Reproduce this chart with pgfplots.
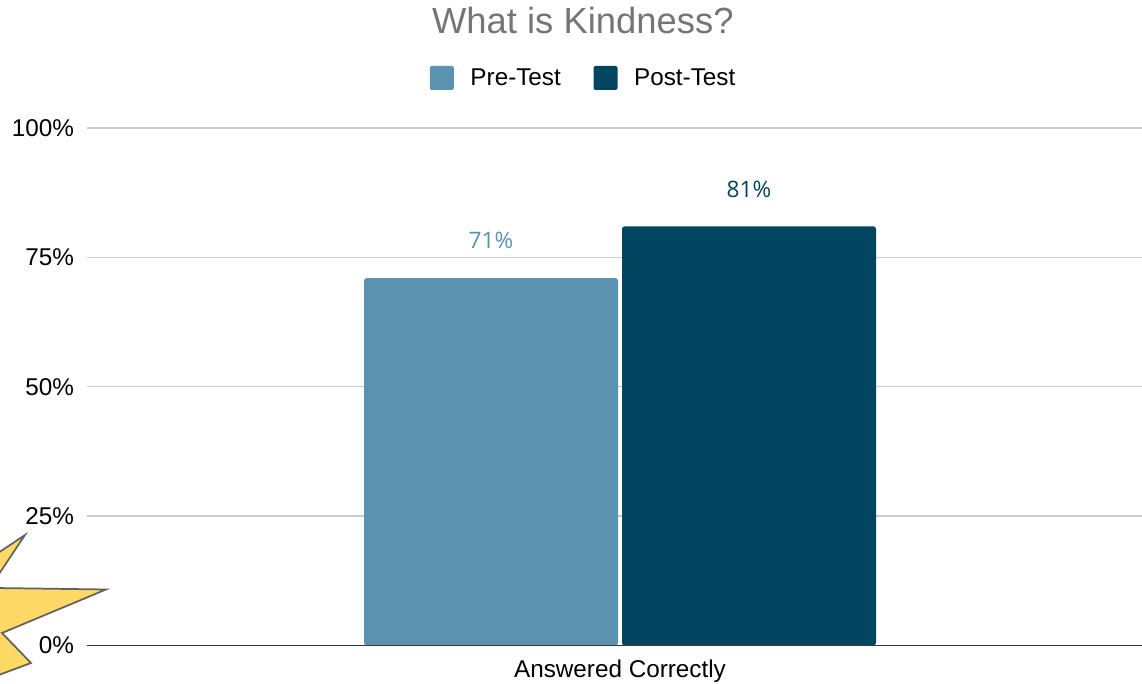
\documentclass[border=0pt]{standalone}
\usepackage{pgfplots}
\pgfplotsset{compat=1.18}
\usepackage{fontspec}
\setmainfont{Liberation Sans}
\newfontfamily\labelfont{Open Sans}
\definecolor{pre}{HTML}{5A92B0}
\definecolor{post}{HTML}{014560}
\definecolor{star}{HTML}{FFD966}
\begin{document}
\begin{tikzpicture}
\path[use as bounding box] (0pt,0pt) rectangle (856.5pt,513pt);
\begin{axis}[
  at={(65.25pt,28.875pt)},anchor=south west,
  scale only axis,width=791.25pt,height=388.125pt,
  xmin=-533,xmax=522,ymin=0,ymax=100,
  axis line style={draw=none},
  tick style={draw=none},
  ybar=3pt,bar width=190.5pt,
  ymajorgrids,grid style={color=black!20,line width=1.1pt},
  ytick={0,25,50,75,100},yticklabels={0\%,25\%,50\%,75\%,100\%},
  xtick={0},xticklabels={Answered Correctly},
  tick label style={font=\fontsize{18.2}{21}\selectfont,color=black},
  yticklabel style={xshift=-6.3pt},
  xticklabel style={yshift=-3pt},
  clip=false,
  legend columns=2,
  legend cell align=left,
  legend style={draw=none,fill=none,at={(0.471,1.0966)},anchor=center,
    font=\fontsize{18.2}{21}\selectfont,
    /tikz/every even column/.append style={column sep=22.5pt}},
  legend image code/.code={\fill[#1,rounded corners=1.5pt] (0pt,-9pt) rectangle (18pt,9pt);\path (28.5pt,0pt);},
  nodes near coords={\pgfmathprintnumber[assume math mode=true]{\pgfplotspointmeta}\%},
  nodes near coords style={font=\labelfont\fontsize{17}{20}\selectfont,yshift=28pt,anchor=center},
]
\addplot[fill=pre,draw=none,rounded corners=2pt,nodes near coords style={color=pre}] coordinates {(0,71)};
\addlegendentry{Pre-Test}
\addplot[fill=post,draw=none,rounded corners=2pt,nodes near coords style={color=post}] coordinates {(0,81)};
\addlegendentry{Post-Test}
\node[font=\fontsize{27.3}{31}\selectfont,color=black!54] at (rel axis cs:0.470,1.2074) {What is Kindness?};
\draw[color=black!78,line width=1.4pt] (axis cs:-533,0) -- (axis cs:522,0);
\end{axis}
\begin{scope}[x=0.75pt,y=-0.75pt,shift={(0pt,513pt)}]
\clip (0,0) rectangle (1142,684);
\filldraw[fill=star,draw=black!62,line width=1.3pt,line join=miter]
  (-20,565) -- (25,535) -- (-5,580) -- (-5,588)
  -- (106,589.5) -- (2,633) -- (31,663) -- (-20,682) -- cycle;
\end{scope}
\end{tikzpicture}
\end{document}
